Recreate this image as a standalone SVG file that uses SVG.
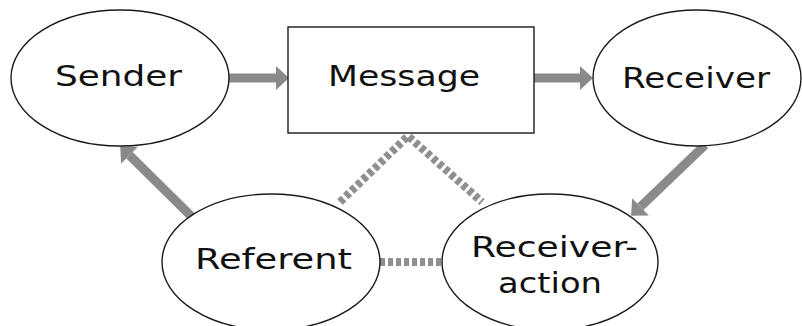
<svg xmlns="http://www.w3.org/2000/svg" width="802" height="326" viewBox="0 0 802 326">
  <style>
    .node { fill: #ffffff; stroke: #1a1a1a; stroke-width: 1.4; }
    .lbl { font-family: "DejaVu Sans", Verdana, sans-serif; font-size: 28px; fill: #111111; }
    .arrow { stroke: #8a8a8a; stroke-width: 9; fill: none; }
    .dotted { stroke: #8f8f8f; stroke-width: 8; stroke-dasharray: 5 3; fill: none; }
  </style>
  <defs>
    <marker id="head" markerUnits="userSpaceOnUse" markerWidth="30" markerHeight="30" refX="0" refY="0" orient="auto" overflow="visible">
      <path d="M0,-12 L13,0 L0,12 Z" fill="#8a8a8a"/>
    </marker>
  </defs>
  <rect width="802" height="326" fill="#ffffff"/>
  <g id="connectors">
    <line class="arrow" x1="229" y1="78" x2="276" y2="78" marker-end="url(#head)"/>
    <line class="arrow" x1="534" y1="78" x2="580" y2="78" marker-end="url(#head)"/>
    <line class="arrow" x1="705" y1="145" x2="640.5" y2="206.8" marker-end="url(#head)"/>
    <line class="arrow" x1="193" y1="218" x2="129.5" y2="155.3" marker-end="url(#head)"/>
    <polyline class="dotted" points="340,202 408,136 482,202"/>
    <line class="dotted" x1="380" y1="262" x2="442" y2="262"/>
  </g>
  <g id="sender">
    <ellipse class="node" cx="120" cy="78" rx="109" ry="68"/>
    <text class="lbl" x="55" y="86" textLength="127" lengthAdjust="spacingAndGlyphs">Sender</text>
  </g>
  <g id="message">
    <rect class="node" x="288" y="27" width="246" height="106"/>
    <text class="lbl" x="328" y="86" textLength="152" lengthAdjust="spacingAndGlyphs">Message</text>
  </g>
  <g id="receiver">
    <ellipse class="node" cx="697" cy="78" rx="104" ry="68"/>
    <text class="lbl" x="622" y="88" textLength="148" lengthAdjust="spacingAndGlyphs">Receiver</text>
  </g>
  <g id="referent">
    <ellipse class="node" cx="271" cy="262" rx="109" ry="68"/>
    <text class="lbl" x="195" y="269" textLength="157" lengthAdjust="spacingAndGlyphs">Referent</text>
  </g>
  <g id="receiver-action">
    <ellipse class="node" cx="550" cy="262" rx="108" ry="68"/>
    <text class="lbl" x="471" y="257" textLength="167" lengthAdjust="spacingAndGlyphs">Receiver-</text>
    <text class="lbl" x="498" y="293" textLength="104" lengthAdjust="spacingAndGlyphs">action</text>
  </g>
</svg>
